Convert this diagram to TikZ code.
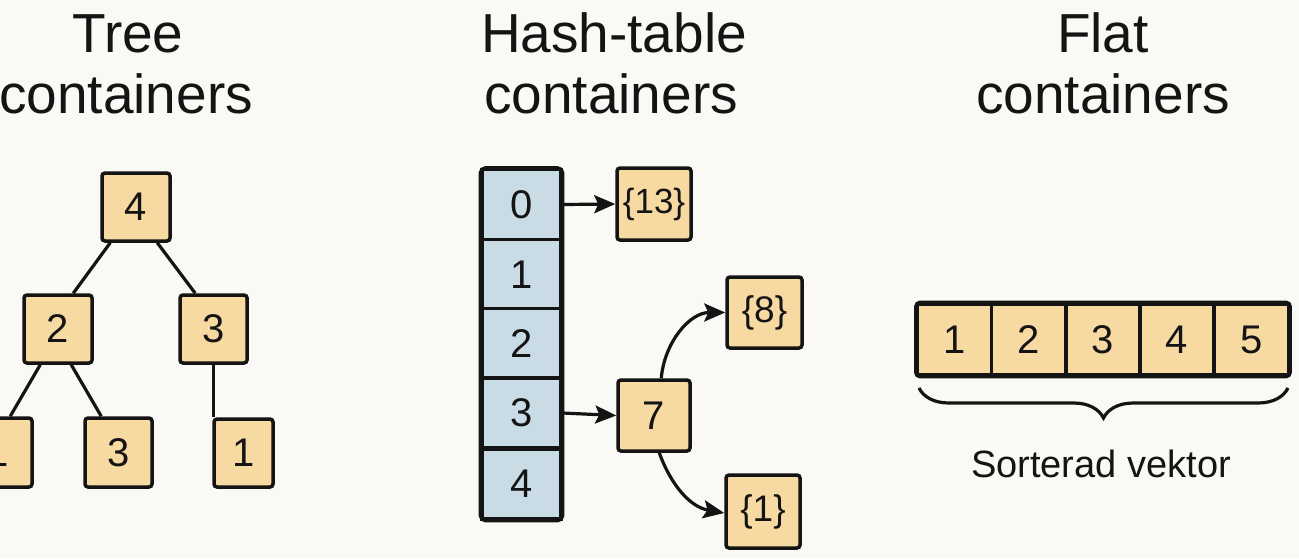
\documentclass[tikz,border=0pt]{standalone}
\usepackage{fontspec}
\setmainfont{Liberation Sans}
\usetikzlibrary{arrows.meta,decorations.pathreplacing}
\definecolor{bgc}{HTML}{FBF9F5}
\definecolor{tan}{HTML}{F6DAA2}
\definecolor{bluec}{HTML}{C9DCE6}
\definecolor{ink}{HTML}{141414}
\tikzset{
  box/.style={draw=ink, line width=3.5pt, fill=tan, rounded corners=3pt, inner sep=0pt, font=\fontsize{40}{44}\selectfont, text=ink},
  cell/.style={draw=ink, line width=3.2pt, fill=tan, inner sep=0pt, font=\fontsize{40}{44}\selectfont, text=ink, minimum width=74pt, minimum height=71pt},
  bcell/.style={draw=ink, line width=3.2pt, fill=bluec, inner sep=0pt, font=\fontsize{40}{44}\selectfont, text=ink, minimum width=79pt, minimum height=70pt},
  edge/.style={draw=ink, line width=3.2pt},
  arr/.style={draw=ink, line width=3.2pt, -{Stealth[length=21pt,width=18pt,inset=4pt]}},
  title/.style={font=\fontsize{55}{61}\selectfont, align=center, text=ink, inner sep=0pt},
}
\begin{document}
\begin{tikzpicture}[x=1pt,y=-1pt]
\fill[bgc] (0,0) rectangle (1299,558);
\useasboundingbox (0,0) rectangle (1299,558);
\clip (0,0) rectangle (1299,558);

% titles
\node[title, anchor=base] (t1a) at (128,52) {Tree};
\node[title, anchor=base] (t1b) at (126,113) {containers};
\node[title, anchor=base] (t2a) at (614,52) {Hash-table};
\node[title, anchor=base] (t2b) at (611,113) {containers};
\node[title, anchor=base] (t3a) at (1103,52) {Flat};
\node[title, anchor=base] (t3b) at (1103,113) {containers};

% tree
\node[box, minimum width=68pt, minimum height=68pt] (r) at (136,207) {4};
\node[box, minimum width=68pt, minimum height=68pt] (a) at (58,329) {2};
\node[box, minimum width=67pt, minimum height=68pt] (b) at (213.5,329) {3};
\node[box, minimum width=68pt, minimum height=69pt] (c) at (-2,452.5) {1};
\node[box, minimum width=67pt, minimum height=69pt] (d) at (118.5,452.5) {3};
\node[box, minimum width=59pt, minimum height=68pt] (e) at (243.5,453) {1};
\draw[edge] ([xshift=10pt]r.south west) -- ([xshift=51pt]a.north west);
\draw[edge] ([xshift=57pt]r.south west) -- ([xshift=17pt]b.north west);
\draw[edge] ([xshift=18pt]a.south west) -- ([xshift=48pt]c.north west);
\draw[edge] ([xshift=49pt]a.south west) -- ([xshift=18pt]d.north west);
\draw[edge] ([xshift=1pt]e.north west |- b.south) -- ([xshift=1pt]e.north west);

% hash table
\node[bcell] (h0) at (521.5,204.5) {0};
\node[bcell] (h1) at (521.5,274.5) {1};
\node[bcell] (h2) at (521.5,343.5) {2};
\node[bcell] (h3) at (521.5,413) {3};
\node[bcell] (h4) at (521.5,484) {4};
\draw[draw=ink, line width=3.5pt, rounded corners=5pt] (h0.north west) rectangle (h4.south east);

\node[box, minimum width=74pt, minimum height=72pt, font=\fontsize{35}{40}\selectfont] (k13) at (654,204) {\{13\}};
\node[box, minimum width=75pt, minimum height=71pt, font=\fontsize{37}{40}\selectfont] (k8) at (764.5,312.5) {\{8\}};
\node[box, minimum width=72pt, minimum height=71pt] (k7) at (654,415.5) {7};
\node[box, minimum width=74pt, minimum height=73pt, font=\fontsize{37}{40}\selectfont] (k1) at (763,511.5) {\{1\}};

\draw[arr] (h0.east) -- (k13.west);
\draw[arr] (h3.east) -- (k7.west);
\draw[arr] ([xshift=45pt]k7.north west) to[out=85,in=180] (k8.west);
\draw[arr] ([xshift=43pt]k7.south west) to[out=-70,in=170] ([yshift=-1.5pt]k1.west);

% flat
\node[cell] (f1) at (954.5,339.5) {1};
\node[cell] (f2) at (1028.5,339.5) {2};
\node[cell] (f3) at (1103,339.5) {3};
\node[cell] (f4) at (1177,339.5) {4};
\node[cell] (f5) at (1251.5,339.5) {5};
\draw[draw=ink, line width=3.5pt, rounded corners=4pt] (f1.north west) rectangle (f5.south east);

\coordinate (bl) at (919,388);
\coordinate (br) at (1288,388);
\draw[draw=ink, line width=3.2pt, decorate, decoration={brace, mirror, amplitude=30pt}] (bl) -- (br);
\node[font=\fontsize{38}{42}\selectfont, text=ink, anchor=base] (lbl) at (1101,477) {Sorterad vektor};
\end{tikzpicture}
\end{document}
